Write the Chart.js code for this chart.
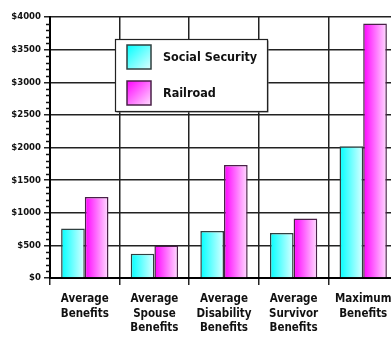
<!DOCTYPE html>
<html>
<head>
<meta charset="utf-8">
<script src="https://cdn.jsdelivr.net/npm/chart.js@4/dist/chart.umd.min.js"></script>
<style>
html,body{margin:0;padding:0;background:#fff;overflow:hidden;width:391px;height:341px;}
canvas{display:block;}
</style>
</head>
<body>
<canvas id="c" width="420" height="341"></canvas>
<script>
const categories = [["Average","Benefits"],["Average","Spouse","Benefits"],["Average","Disability","Benefits"],["Average","Survivor","Benefits"],["Maximum","Benefits"]];
const socialSecurity = [760, 370, 720, 690, 2020];
const railroad = [1240, 500, 1730, 910, 3900];
const seriesNames = ["Social Security", "Railroad"];
const yMax = 4000, yStep = 500, yMinorStep = 100;

const FONT = "'DejaVu Sans Condensed','Liberation Sans Narrow',sans-serif";
const CAT_PCT = 0.68;
const palettes = [
  {from:'#00FFFF', to:'#DDFFFF', border:'#2f3f3f'},
  {from:'#FF00FF', to:'#FFDDFF', border:'#4a2048'}
];

function barFill(ctx){
  const p = palettes[ctx.datasetIndex];
  if (ctx.dataIndex === undefined) return p.from;
  const chart = ctx.chart, xs = chart.scales.x;
  if (!xs || !xs.width) return p.from;
  const center = xs.getPixelForValue(ctx.dataIndex);
  const catW = xs.width / chart.data.labels.length;
  const groupW = catW * CAT_PCT;
  const bw = groupW / 2;
  const left = center - groupW/2 + ctx.datasetIndex * bw;
  const g = chart.ctx.createLinearGradient(left, 0, left + bw, 0);
  g.addColorStop(0, p.from);
  g.addColorStop(1, p.to);
  return g;
}

const minorTicks = {
  id: 'minorTicks',
  afterDraw(chart){
    const ys = chart.scales.y, c = chart.ctx;
    c.save();
    c.strokeStyle = '#111';
    c.lineWidth = 1.5;
    for (let v = 0; v <= yMax; v += yMinorStep){
      if (v % yStep === 0) continue;
      const y = Math.round(ys.getPixelForValue(v)) + 0.5;
      c.beginPath();
      c.moveTo(ys.right - 4, y);
      c.lineTo(ys.right, y);
      c.stroke();
    }
    c.restore();
  }
};

const boxLegend = {
  id: 'boxLegend',
  afterDatasetsDraw(chart){
    const c = chart.ctx;
    const x0 = 115, y0 = 39, w = 152, h = 72;
    c.save();
    c.fillStyle = '#777';
    c.fillRect(x0 + 1.5, y0 + 1.5, w, h);
    c.fillStyle = '#fff';
    c.fillRect(x0, y0, w, h);
    c.strokeStyle = '#222';
    c.lineWidth = 1.2;
    c.strokeRect(x0 + 0.5, y0 + 0.5, w, h);
    chart.data.datasets.forEach((ds, i) => {
      const p = palettes[i];
      const sx = 127, sy = 45 + i * 36, s = 24;
      const g = c.createLinearGradient(sx, sy, sx + s, sy + s);
      g.addColorStop(0, p.from);
      g.addColorStop(1, p.to);
      c.fillStyle = g;
      c.fillRect(sx, sy, s, s);
      c.strokeStyle = p.border;
      c.lineWidth = 1.5;
      c.strokeRect(sx, sy, s, s);
      c.fillStyle = '#111';
      c.font = "bold 12.5px " + FONT;
      c.textBaseline = 'middle';
      c.textAlign = 'left';
      c.fillText(ds.label, 163, sy + s/2 + 1);
    });
    c.restore();
  }
};

new Chart(document.getElementById('c'), {
  type: 'bar',
  data: {
    labels: categories,
    datasets: [
      {label: seriesNames[0], data: socialSecurity, backgroundColor: barFill, borderColor: palettes[0].border, borderWidth: 1.5},
      {label: seriesNames[1], data: railroad, backgroundColor: barFill, borderColor: palettes[1].border, borderWidth: 1.5}
    ]
  },
  options: {
    responsive: false,
    animation: false,
    devicePixelRatio: 1,
    layout: {padding: {left: 0, right: 22, top: 17, bottom: 0}},
    datasets: {bar: {categoryPercentage: CAT_PCT, barPercentage: 1}},
    plugins: {legend: {display: false}, tooltip: {enabled: false}, title: {display: false}},
    scales: {
      x: {
        offset: true,
        grid: {offset: true, color: '#222', lineWidth: 1.5, tickLength: 7, drawTicks: true},
        border: {color: '#000', width: 2},
        ticks: {color: '#111', padding: 7, maxRotation: 0, autoSkip: false,
                font: {family: FONT, weight: 'bold', size: 11.5, lineHeight: 1.26}},
        afterFit(s){ s.height = 63; }
      },
      y: {
        min: 0, max: yMax,
        grid: {color: '#222', lineWidth: 1.5, tickLength: 6},
        border: {color: '#000', width: 2},
        ticks: {stepSize: yStep, color: '#111', padding: 3,
                font: {family: FONT, weight: 'bold', size: 9.5},
                callback: v => '$' + v},
        afterFit(s){ s.width = 50; }
      }
    }
  },
  plugins: [minorTicks, boxLegend]
});
</script>
</body>
</html>
